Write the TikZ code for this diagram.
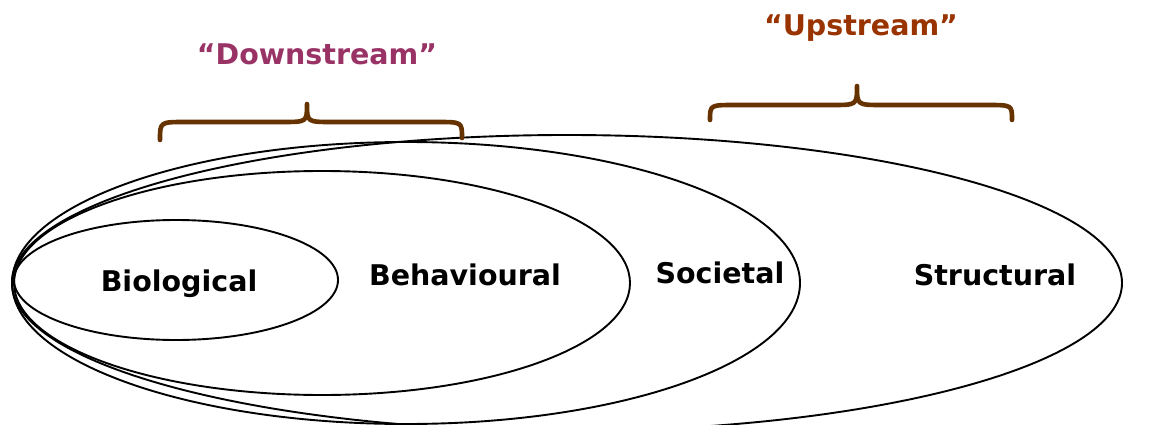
\documentclass[tikz,border=0pt]{standalone}
\usepackage{fontspec}
\setsansfont{DejaVu Sans}
\usetikzlibrary{positioning}

\definecolor{downcol}{HTML}{993366}
\definecolor{upcol}{HTML}{993300}
\definecolor{bracecol}{HTML}{663300}

\begin{document}
\begin{tikzpicture}[x=1pt, y=-1pt, font=\sffamily\bfseries\fontsize{28.5}{32}\selectfont,
		ring/.style={draw=black, line width=1.9pt},
		brace/.style={draw=bracecol, line width=4.6pt, line cap=round, line join=round},
		level/.style={inner sep=0pt, text=black}]
		\useasboundingbox (0,0) rectangle (1161,425);
		
		% nested ellipses, all touching on the left
		\draw[ring] (567,283) ellipse (555 and 148);
		\draw[ring] (406,283) ellipse (394 and 141);
		\draw[ring] (322,283) ellipse (308 and 112);
		\draw[ring] (176,280) ellipse (162 and 60);
		
		\node[level] (bio) at (179,284) {Biological};
		\node[level] (beh) at (465,275) {Behavioural};
		\node[level] (soc) at (720,273) {Societal};
		\node[level] (str) at (995,275) {Structural};
		
		% braces
		\draw[brace] (160,140) .. controls (160,122) .. (185,122) -- (282,122) .. controls (307,122) .. (307,104)
			.. controls (307,122) .. (332,122) -- (437,122) .. controls (462,122) .. (462,138);
		\draw[brace] (710,120) .. controls (710,105) .. (735,105) -- (832,105) .. controls (857,105) .. (857,86)
			.. controls (857,105) .. (882,105) -- (987,105) .. controls (1012,105) .. (1012,120);
		
		\node[text=downcol, inner sep=0pt] (down) at (317,54) {“Downstream”};
		\node[text=upcol, inner sep=0pt] (up) at (861,28) {“Upstream”};
	\end{tikzpicture}
\end{document}
